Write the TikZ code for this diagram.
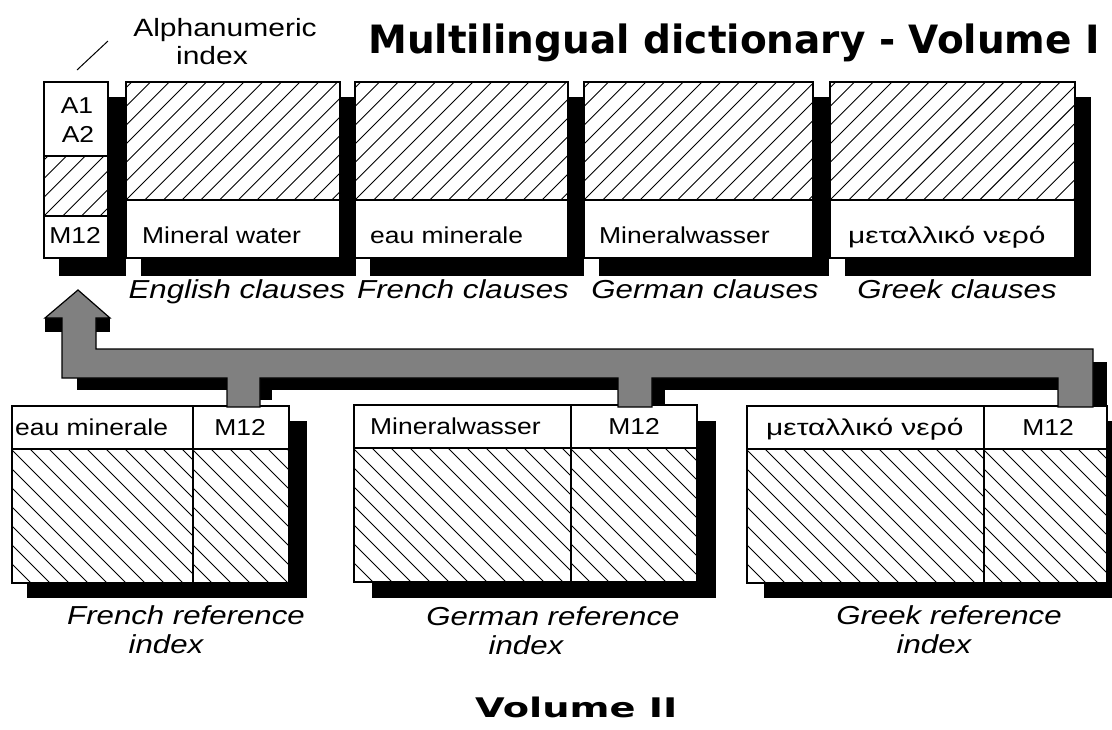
\documentclass[tikz,border=0pt]{standalone}
\usepackage{fontspec}
\setmainfont{Liberation Sans}
\newfontfamily\boxf[FakeStretch=1.15]{Liberation Sans}
\newfontfamily\greekf[FakeStretch=1.3]{Liberation Sans}
\newfontfamily\labf[FakeStretch=1.2]{Liberation Sans}
\newfontfamily\titf{DejaVu Sans}
\newfontfamily\volf[FakeStretch=1.42]{DejaVu Sans}
\usetikzlibrary{fit,calc}
\tikzset{
  hatchline/.style={line width=0.9pt},
  part/.style={draw, line width=1.1pt, fill=white, inner sep=0pt, outer sep=0pt},
  hne/.style={part, path picture={\foreach \k in {-14,...,34}
      \draw[hatchline] ($(path picture bounding box.south west)+(\k*18.7,0)$) -- ++(300,-300);}},
  hnw/.style={part, path picture={\foreach \k in {-2,...,40}
      \draw[hatchline] ($(path picture bounding box.south west)+(\k*19,0)$) -- ++(-300,-300);}},
  shadow/.style={fill=black, draw=none},
  boxt/.style={font=\boxf\fontsize{23}{23}\selectfont, inner sep=0pt},
  grkt/.style={font=\greekf\fontsize{23}{23}\selectfont, inner sep=0pt},
  labt/.style={font=\labf\itshape\fontsize{26}{26}\selectfont, inner sep=0pt},
  arrowbody/.style={fill=black!50, draw=black, line width=1.2pt, line join=miter},
}
\begin{document}
\begin{tikzpicture}[x=1pt,y=-1pt]
\useasboundingbox (0,0) rectangle (1112,729);
\clip (0,0) rectangle (1112,729);

% title
\node[anchor=base west, inner sep=0pt, font=\titf\bfseries\fontsize{39}{39}\selectfont] (title) at (368,53) {Multilingual dictionary - Volume I};
\node[anchor=base west, inner sep=0pt, font=\volf\bfseries\fontsize{27}{27}\selectfont] (vol2) at (475,717) {Volume II};

% alphanumeric label
\node[inner sep=0pt, font=\labf\fontsize{25}{25}\selectfont, anchor=base] (alpha) at (225,36) {Alphanumeric};
\node[inner sep=0pt, font=\labf\fontsize{25}{25}\selectfont, anchor=base] (alpha2) at (212,64) {index};
\coordinate (slashA) at (108,41);
\coordinate (slashB) at (77,70);
\draw[line width=1pt] (slashA) -- (slashB);

% ---------- top row shadows ----------
\fill[shadow] (59,97) rectangle (126,276);
\fill[shadow] (141,97) rectangle (356,276);
\fill[shadow] (370,97) rectangle (584,276);
\fill[shadow] (599,97) rectangle (829,276);
\fill[shadow] (845,97) rectangle (1091,276);

% ---------- alphanumeric index box ----------
\node[part, fit={(44,82)(108,156)}] (idxA) {};
\node[hne, fit={(44,156)(108,216)}] (idxH) {};
\node[part, fit={(44,216)(108,258)}] (idxM) {};
\node[boxt, anchor=base] (a1) at (77,113) {A1};
\node[boxt, anchor=base] (a2) at (78,142) {A2};
\node[boxt, anchor=base] (m12a) at (75,243) {M12};

% ---------- clause boxes ----------
\node[hne, fit={(126,82)(340,200)}] (engH) {};
\node[part, fit={(126,200)(340,258)}] (engT) {};
\node[hne, fit={(355,82)(568,200)}] (freH) {};
\node[part, fit={(355,200)(568,258)}] (freT) {};
\node[hne, fit={(584,82)(813,200)}] (gerH) {};
\node[part, fit={(584,200)(813,258)}] (gerT) {};
\node[hne, fit={(830,82)(1075,200)}] (grkH) {};
\node[part, fit={(830,200)(1075,258)}] (grkT) {};

\node[boxt, anchor=base west] (engW) at (142,243) {Mineral water};
\node[boxt, anchor=base west] (freW) at (370,243) {eau minerale};
\node[boxt, anchor=base west] (gerW) at (599,243) {Mineralwasser};
\node[grkt, anchor=base west] (grkW) at (848,243) {μεταλλικό νερό};

\node[labt, anchor=base] (engL) at (237,298) {English clauses};
\node[labt, anchor=base] (freL) at (463,298) {French clauses};
\node[labt, anchor=base] (gerL) at (705,298) {German clauses};
\node[labt, anchor=base] (grkL) at (957,298) {Greek clauses};

% ---------- bottom row shadows ----------
\fill[shadow] (27,421) rectangle (307,598);
\fill[shadow] (372,421) rectangle (716,598);
\fill[shadow] (764,421) rectangle (1125,598);

% ---------- reference index boxes ----------
\node[part, fit={(12,406)(193,449)}] (frWord) {};
\node[part, fit={(193,406)(289,449)}] (frCode) {};
\node[hnw, fit={(12,449)(193,583)}] (frH1) {};
\node[hnw, fit={(193,449)(289,583)}] (frH2) {};

\node[part, fit={(354,405)(571,448)}] (deWord) {};
\node[part, fit={(571,405)(697,448)}] (deCode) {};
\node[hnw, fit={(354,448)(571,582)}] (deH1) {};
\node[hnw, fit={(571,448)(697,582)}] (deH2) {};

\node[part, fit={(747,406)(984,449)}] (grWord) {};
\node[part, fit={(984,406)(1107,449)}] (grCode) {};
\node[hnw, fit={(747,449)(984,583)}] (grH1) {};
\node[hnw, fit={(984,449)(1107,583)}] (grH2) {};

\node[boxt, anchor=base west] (frWt) at (15,435) {eau minerale};
\node[boxt, anchor=base] (frCt) at (240,435) {M12};
\node[boxt, anchor=base west] (deWt) at (370,434) {Mineralwasser};
\node[boxt, anchor=base] (deCt) at (634,434) {M12};
\node[grkt, anchor=base west] (grWt) at (766,435) {μεταλλικό νερό};
\node[boxt, anchor=base] (grCt) at (1048,435) {M12};

\node[labt, anchor=base] (frL1) at (186,624) {French reference};
\node[labt, anchor=base] (frL2) at (166,653) {index};
\node[labt, anchor=base] (deL1) at (553,625) {German reference};
\node[labt, anchor=base] (deL2) at (526,654) {index};
\node[labt, anchor=base] (grL1) at (949,624) {Greek reference};
\node[labt, anchor=base] (grL2) at (934,653) {index};

% ---------- big arrow ----------
\fill[shadow] (45,318) rectangle (110,332);
\fill[shadow] (77,378) rectangle (1070,390);
\fill[shadow] (260,378) rectangle (272,400);
\fill[shadow] (652,378) rectangle (665,404);
\fill[shadow] (1093,362) rectangle (1107,407);

\draw[arrowbody] (78,290) -- (110,318) -- (96,318) -- (96,349) -- (1093,349)
  -- (1093,407) -- (1058,407) -- (1058,378) -- (652,378) -- (652,407)
  -- (618,407) -- (618,378) -- (260,378) -- (260,407) -- (227,407)
  -- (227,378) -- (62,378) -- (62,318) -- (45,318) -- cycle;
\end{tikzpicture}
\end{document}
